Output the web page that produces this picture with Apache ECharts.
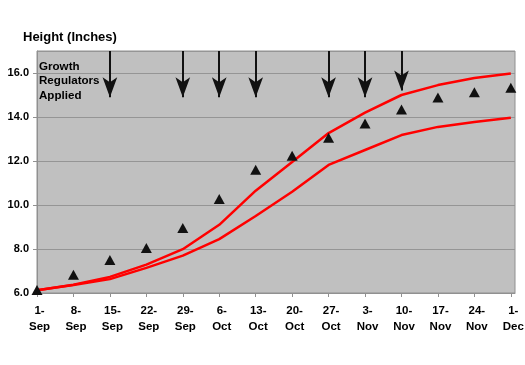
<!DOCTYPE html>
<html><head><meta charset="utf-8">
<script src="https://cdn.jsdelivr.net/npm/echarts@6/dist/echarts.min.js"></script>
<style>html,body{margin:0;padding:0;background:#fff}#c{width:525px;height:365px}</style>
</head><body><div id="c"></div>
<script>
var categories = ['1-\nSep','8-\nSep','15-\nSep','22-\nSep','29-\nSep','6-\nOct','13-\nOct','20-\nOct','27-\nOct','3-\nNov','10-\nNov','17-\nNov','24-\nNov','1-\nDec'];
var measured = [6.14, 6.83, 7.5, 8.04, 8.95, 10.27, 11.6, 12.24, 13.06, 13.7, 14.34, 14.89, 15.12, 15.33];
var upperLine = [6.13, 6.38, 6.73, 7.29, 7.99, 9.1, 10.65, 11.95, 13.27, 14.2, 15.0, 15.45, 15.77, 15.98];
var lowerLine = [6.12, 6.36, 6.63, 7.14, 7.7, 8.45, 9.5, 10.6, 11.82, 12.5, 13.18, 13.55, 13.77, 13.97];
var arrowIdx = [2, 4, 5, 6, 8, 9, 10];
var arrowTip = [14.9, 14.9, 14.9, 14.9, 14.9, 14.9, 15.2];
var yTicks = {min: 6, max: 17, interval: 2};
var daysPerStep = 7;

function pairs(arr){ return arr.map(function(v,i){ return [i*daysPerStep, v]; }); }
var arrows = arrowIdx.map(function(ix,k){
  return [{coord:[ix*daysPerStep, yTicks.max]}, {coord:[ix*daysPerStep, arrowTip[k]]}];
});

var chart = echarts.init(document.getElementById('c'));
var bold = {fontFamily:'Liberation Sans, Arial, sans-serif', fontWeight:'bold', color:'#000'};
chart.setOption({
  animation:false,
  title:{text:'Height (Inches)', left:18, top:26, textStyle:Object.assign({fontSize:13}, bold)},
  grid:{left:37, top:51, right:10, bottom:72, show:true, backgroundColor:'#c0c0c0', borderColor:'#909090', borderWidth:1,
    outerBoundsMode:'none', containLabel:false},
  graphic:[{type:'text', left:39, top:59, silent:true, z:10,
    style:{text:'Growth\nRegulators\nApplied', fontSize:11.6, lineHeight:14.7, fill:'#000',
      fontWeight:'bold', fontFamily:'Liberation Sans, Arial, sans-serif'}}],
  xAxis:{type:'value', min:0, max:91.8, interval:daysPerStep,
    axisLine:{show:true, lineStyle:{color:'#909090'}},
    axisTick:{show:true, length:4, lineStyle:{color:'#909090'}},
    splitLine:{show:false},
    axisLabel:Object.assign({fontSize:11.5, lineHeight:16, margin:10, showMaxLabel:false, padding:[0,0,0,5],
      formatter:function(v){ var i=Math.round(v/daysPerStep); return (Math.abs(v-i*daysPerStep)<1e-6 && categories[i])?categories[i]:''; }}, bold)},
  yAxis:{type:'value', min:yTicks.min, max:yTicks.max, interval:yTicks.interval,
    axisLine:{show:true, lineStyle:{color:'#909090'}},
    axisTick:{show:true, length:4, lineStyle:{color:'#909090'}},
    splitLine:{show:true, lineStyle:{color:'#959595', width:1}},
    axisLabel:Object.assign({fontSize:11, margin:8, showMaxLabel:false, formatter:function(v){return v.toFixed(1);}}, bold)},
  series:[
    {type:'line', data:pairs(upperLine), symbol:'none', lineStyle:{color:'#ff0000', width:2.5}, z:3,
     markLine:{silent:true, symbol:['none','arrow'], symbolSize:[11,20], label:{show:false},
       lineStyle:{color:'#111', width:2, type:'solid', opacity:1}, emphasis:{disabled:true}, data:arrows}},
    {type:'line', data:pairs(lowerLine), symbol:'none', lineStyle:{color:'#ff0000', width:2.5}, z:3},
    {type:'scatter', data:pairs(measured), symbol:'triangle', symbolSize:[11,10], itemStyle:{color:'#111', opacity:1}, z:5}
  ]
});
</script></body></html>
